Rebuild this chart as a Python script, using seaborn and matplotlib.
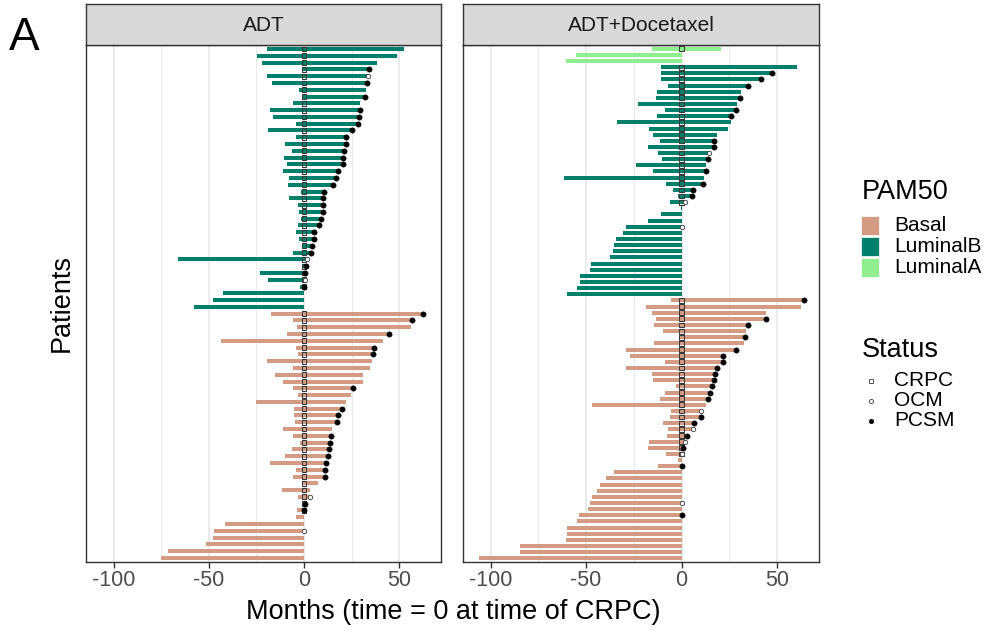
import numpy as np
import pandas as pd
import matplotlib
matplotlib.use("Agg")
import matplotlib.pyplot as plt
import seaborn as sns
from matplotlib.patches import Rectangle
from matplotlib.lines import Line2D

# ---------------- data ----------------
# ADT arm: one row per patient, top to bottom
adt_subtype = ["LuminalB"] * 39 + ["Basal"] * 37
adt_start = [-19.3, -24.7, -22.0, -1.0, -19.3, -16.9, -2.8, -1.0, -5.9, -17.8,
             -16.2, -4.4, -18.8, -4.4, -9.8, -6.3, -10.6, -9.1, -11.0, -7.8,
             -8.4, -1.4, -7.8, -3.1, -2.6, -1.4, -3.0, -4.2, -2.4, -1.0,
             -5.7, -66.4, -1.0, -23.3, -18.8, -1.9, -42.3, -47.6, -58.0,
             -17.2, -5.7, -3.5, -8.9, -43.7, -4.0, -3.1, -19.3, -5.9, -15.0,
             -11.1, -5.9, -3.0, -25.1, -5.1, -5.2, -4.9, -10.8, -5.9, -1.9,
             -6.3, -10.1, -17.9, -4.2, -5.6, -1.0, -11.5, -3.1, -0.6, -3.7,
             -4.4, -41.5, -47.0, -47.9, -51.2, -71.3, -75.1]
adt_end = [52.3, 48.8, 38.3, 34.3, 33.8, 32.9, 32.4, 32.2, 29.4, 29.4,
           28.9, 28.6, 25.1, 22.3, 22.0, 21.1, 20.7, 20.7, 17.8, 16.6,
           15.0, 10.6, 10.1, 9.8, 9.8, 8.7, 7.8, 5.4, 5.2, 4.2,
           3.8, 1.6, 1.0, 0.7, 0.7, 0.2, 0.0, 0.0, 0.0,
           62.5, 56.6, 56.4, 44.6, 41.6, 36.6, 36.2, 35.5, 34.5, 30.8,
           30.8, 25.6, 24.7, 22.3, 20.0, 17.9, 17.6, 14.6, 14.3, 13.8,
           13.4, 12.4, 11.5, 11.1, 10.8, 7.3, 3.3, 3.3, 0.3, 0.0,
           0.0, 0.0, 0.0, 0.0, 0.0, 0.0, 0.0]
adt_crpc = [1] * 36 + [0] * 3 + [1] * 30 + [0] * 7
adt_event = ["", "", "", "PCSM", "OCM", "PCSM", "", "PCSM", "", "PCSM",
             "PCSM", "PCSM", "PCSM", "PCSM", "PCSM", "PCSM", "PCSM", "PCSM", "PCSM", "PCSM",
             "PCSM", "PCSM", "PCSM", "PCSM", "PCSM", "PCSM", "PCSM", "PCSM", "PCSM", "PCSM",
             "PCSM", "OCM", "PCSM", "PCSM", "OCM", "PCSM", "", "", "",
             "PCSM", "PCSM", "", "PCSM", "", "PCSM", "PCSM", "", "", "",
             "", "PCSM", "", "", "PCSM", "PCSM", "PCSM", "", "PCSM", "PCSM",
             "PCSM", "PCSM", "PCSM", "PCSM", "PCSM", "", "", "OCM", "PCSM", "PCSM",
             "", "", "OCM", "", "", "", ""]

# ADT+Docetaxel arm
doc_subtype = ["LuminalA"] * 3 + ["LuminalB"] * 38 + ["Basal"] * 43
doc_start = [-15.4, -55.1, -60.4,
             -10.8, -10.6, -10.8, -7.3, -12.7, -13.4, -22.7, -8.7, -12.7, -33.7,
             -16.8, -14.8, -11.2, -17.5, -12.4, -10.5, -23.7, -14.8, -61.8, -8.2,
             -4.7, -2.1, -5.9, -0.5, -11.0, -17.8, -29.3, -30.7, -34.2, -35.3,
             -35.8, -37.5, -47.5, -48.2, -53.4, -53.4, -55.0, -59.9,
             -5.6, -18.7, -15.5, -13.6, -14.5, -9.8, -1.2, -14.7, -29.3, -27.2,
             -8.9, -29.3, -15.7, -15.2, -2.8, -8.9, -11.2, -47.1, -5.6, -5.9,
             -9.9, -7.0, -7.5, -17.1, -17.6, -8.2, -2.1, -12.2, -35.4, -39.6,
             -42.6, -44.3, -46.9, -47.8, -49.0, -53.9, -54.6, -60.0, -60.0, -60.4,
             -84.5, -84.8, -105.9]
doc_end = [20.8, 0.0, 0.0,
           60.7, 47.6, 41.4, 34.9, 31.1, 30.5, 29.0, 28.3, 25.8, 25.8,
           24.4, 18.7, 16.9, 16.9, 14.5, 13.8, 12.6, 12.6, 11.5, 11.0,
           5.8, 5.4, 1.6, 0.0, 0.0, 0.0, 0.0, 0.0, 0.0, 0.0,
           0.0, 0.0, 0.0, 0.0, 0.0, 0.0, 0.0, 0.0,
           63.9, 62.7, 44.3, 44.0, 34.9, 33.7, 33.0, 32.6, 28.3, 21.6,
           21.6, 18.7, 17.3, 16.9, 16.2, 15.0, 14.1, 12.7, 10.1, 10.1,
           6.3, 5.8, 2.6, 1.7, 1.0, 0.3, 0.0, 0.0, 0.0, 0.0,
           0.0, 0.0, 0.0, 0.0, 0.0, 0.0, 0.0, 0.0, 0.0, 0.0,
           0.0, 0.0, 0.0]
doc_crpc = [1, 0, 0] + [1] * 23 + [0] * 15 + [1] * 26 + [0] * 17
doc_event = ["", "", "",
             "", "PCSM", "PCSM", "PCSM", "", "PCSM", "", "PCSM", "PCSM", "",
             "", "", "PCSM", "PCSM", "OCM", "PCSM", "", "PCSM", "", "PCSM",
             "PCSM", "PCSM", "OCM", "", "", "", "OCM", "", "", "",
             "", "", "", "", "", "", "", "",
             "PCSM", "", "", "PCSM", "PCSM", "", "PCSM", "", "PCSM", "PCSM",
             "PCSM", "PCSM", "PCSM", "PCSM", "PCSM", "PCSM", "PCSM", "", "OCM", "PCSM",
             "PCSM", "OCM", "PCSM", "OCM", "PCSM", "OCM", "", "PCSM", "", "",
             "", "", "", "OCM", "", "PCSM", "", "", "", "",
             "", "", ""]

panel_titles = ["ADT", "ADT+Docetaxel"]
subtype_order = ["Basal", "LuminalB", "LuminalA"]
subtype_colors = ["#D49B84", "#00806A", "#90EE90"]
status_labels = ["CRPC", "OCM", "PCSM"]
x_ticks = [-100, -50, 0, 50]

# ---------------- styling ----------------
sns.set_theme(style="white")
plt.rcParams["font.family"] = ["Liberation Sans", "DejaVu Sans"]

W, H = 987, 634
fig = plt.figure(figsize=(W / 100, H / 100), dpi=100)
palette = dict(zip(subtype_order, subtype_colors))
EDGE = "#333333"


def box(x0, y0, x1, y1):
    """Figure-fraction rectangle from a pixel box measured from the top-left."""
    return [x0 / W, 1 - y1 / H, (x1 - x0) / W, (y1 - y0) / H]


def draw_panel(ax, df):
    n = len(df)
    df = df.assign(row=np.arange(n))
    for sub in subtype_order:
        d = df[df["subtype"] == sub]
        if len(d):
            ax.hlines(d["row"], d["start"], d["end"], color=palette[sub],
                      lw=2.9, zorder=2)
    crpc = df[df["crpc"] == 1].assign(t=0.0)
    sns.scatterplot(data=crpc, x="t", y="row", marker="s", s=12,
                    facecolor="none", edgecolor="#3a3a3a", linewidth=0.75,
                    ax=ax, zorder=3, legend=False)
    ocm = df[df["event"] == "OCM"]
    sns.scatterplot(data=ocm, x="end", y="row", marker="o", s=10,
                    facecolor="white", edgecolor="#3a3a3a", linewidth=0.6,
                    ax=ax, zorder=4, legend=False)
    pcsm = df[df["event"] == "PCSM"]
    sns.scatterplot(data=pcsm, x="end", y="row", marker="o", s=15,
                    color="black", edgecolor="black", linewidth=0.3,
                    ax=ax, zorder=4, legend=False)

    ax.set_xlim(-114.5, 72)
    ax.set_ylim(n - 1 + 0.6, -0.6)
    ax.set_xticks(x_ticks)
    ax.set_xticklabels([str(v) for v in x_ticks])
    ax.set_xticks([-75, -25, 25], minor=True)
    ax.set_yticks([])
    ax.grid(False)
    for v in x_ticks:
        ax.axvline(v, color="#EBEBEB", lw=1.4, zorder=0)
    for v in [-75, -25, 25]:
        ax.axvline(v, color="#EBEBEB", lw=0.8, zorder=0)
    ax.tick_params(axis="x", which="major", direction="out", length=4.0,
                   width=1.0, color=EDGE, labelsize=15.5, labelcolor="#4D4D4D",
                   pad=2, bottom=True)
    ax.tick_params(axis="x", which="minor", length=0)
    for s in ax.spines.values():
        s.set_color(EDGE)
        s.set_linewidth(1.0)
    ax.set_xlabel("")
    ax.set_ylabel("")
    ax.set_facecolor("white")


panels = [
    (pd.DataFrame({"subtype": adt_subtype, "start": adt_start, "end": adt_end,
                   "crpc": adt_crpc, "event": adt_event}), (86, 441)),
    (pd.DataFrame({"subtype": doc_subtype, "start": doc_start, "end": doc_end,
                   "crpc": doc_crpc, "event": doc_event}), (463, 819)),
]

for (df, (x0, x1)), title in zip(panels, panel_titles):
    ax = fig.add_axes(box(x0, 45, x1, 562))
    draw_panel(ax, df)
    strip = fig.add_axes(box(x0, 4, x1, 45))
    strip.set_facecolor("#D9D9D9")
    strip.set_xticks([])
    strip.set_yticks([])
    for s in strip.spines.values():
        s.set_color(EDGE)
        s.set_linewidth(1.0)
    strip.text(0.5, 0.48, title, ha="center", va="center", fontsize=15,
               color="#1A1A1A", transform=strip.transAxes)

# axis titles and panel tag
fig.text(453 / W, 1 - 612 / H, "Months (time = 0 at time of CRPC)",
         ha="center", va="center", fontsize=19.5, color="black")
fig.text(62 / W, 1 - 303 / H, "Patients", ha="center", va="center",
         rotation=90, fontsize=19.5, color="black")
fig.text(9 / W, 1 - 50 / H, "A", ha="left", va="baseline", fontsize=33,
         color="black")

# ---------------- legends ----------------
fig.text(862 / W, 1 - 199 / H, "PAM50", ha="left", va="baseline",
         fontsize=19.5, color="black")
for i, (lab, col) in enumerate(zip(subtype_order, subtype_colors)):
    y0 = 216 + 21 * i
    fig.add_artist(Rectangle((861 / W, 1 - (y0 + 19) / H), 18 / W, 19 / H,
                             transform=fig.transFigure, facecolor=col,
                             edgecolor="white", lw=0.5))
    fig.text(894 / W, 1 - (y0 + 9.5) / H, lab, ha="left", va="center",
             fontsize=15, color="black")

fig.text(862 / W, 1 - 357 / H, "Status", ha="left", va="baseline",
         fontsize=19.5, color="black")
legend_markers = [dict(marker="s", mfc="none", mec="#3a3a3a", ms=3.0, mew=0.6),
                  dict(marker="o", mfc="none", mec="#3a3a3a", ms=3.0, mew=0.6),
                  dict(marker="o", mfc="black", mec="black", ms=3.4, mew=0.3)]
for i, (lab, mk) in enumerate(zip(status_labels, legend_markers)):
    yc = 380.5 + 20 * i
    fig.add_artist(Line2D([871 / W], [1 - yc / H], transform=fig.transFigure,
                          linestyle="none", **mk))
    fig.text(894 / W, 1 - yc / H, lab, ha="left", va="center",
             fontsize=15, color="black")

fig.savefig("out.png", dpi=100)
